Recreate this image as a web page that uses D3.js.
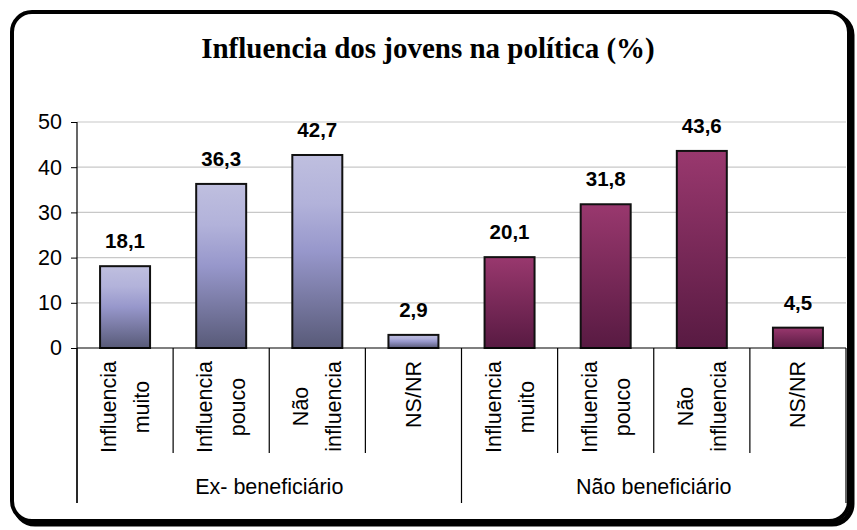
<!DOCTYPE html>
<html lang="pt">
<head>
    <meta charset="UTF-8">
    <title>Influencia dos jovens na política</title>
    <script src="https://d3js.org/d3.v7.min.js"></script>
    <style>
        body { margin: 0; background: #fff; }
        text { font-family: "Liberation Sans", Arial, sans-serif; }
    </style>
</head>
<body>
<script>
    // dados do gráfico
    var title = 'Influencia dos jovens na política (%)';
    var groups = ['Ex- beneficiário', 'Não beneficiário'];
    var categories = [['Influencia', 'muito'], ['Influencia', 'pouco'], ['Não', 'influencia'], ['NS/NR']];
    var exValues = [18.1, 36.3, 42.7, 2.9];
    var naoValues = [20.1, 31.8, 43.6, 4.5];
    var yTicks = [0, 10, 20, 30, 40, 50];

    var width = 857, height = 530;
    var svg = d3.select('body').append('svg').attr('width', width).attr('height', height);

    // gradientes (um por grupo, aplicado a cada barra)
    var defs = svg.append('defs');
    var g1 = defs.append('linearGradient').attr('id', 'gEx').attr('x1', 0).attr('y1', 0).attr('x2', 0).attr('y2', 1);
    g1.append('stop').attr('offset', '0%').attr('stop-color', '#bfbfdf');
    g1.append('stop').attr('offset', '25%').attr('stop-color', '#b2b2da');
    g1.append('stop').attr('offset', '50%').attr('stop-color', '#9797cb');
    g1.append('stop').attr('offset', '100%').attr('stop-color', '#585a78');
    var g2 = defs.append('linearGradient').attr('id', 'gNao').attr('x1', 0).attr('y1', 0).attr('x2', 0).attr('y2', 1);
    g2.append('stop').attr('offset', '0%').attr('stop-color', '#99386e');
    g2.append('stop').attr('offset', '100%').attr('stop-color', '#581a42');

    // moldura arredondada com sombra
    svg.append('rect').attr('x', 15).attr('y', 15).attr('width', 837).attr('height', 509)
        .attr('rx', 20).attr('fill', 'none').attr('stroke', '#000').attr('stroke-width', 5);
    svg.append('rect').attr('x', 12).attr('y', 12).attr('width', 837).attr('height', 509)
        .attr('rx', 20).attr('fill', '#fff').attr('stroke', '#000').attr('stroke-width', 4);

    // titulo
    svg.append('text')
        .attr('x', 428).attr('y', 58)
        .attr('text-anchor', 'middle')
        .style('font-family', '"Liberation Serif", "Times New Roman", serif')
        .style('font-weight', 'bold')
        .style('font-size', '29px')
        .text(title);

    // dados achatados
    var data = [];
    groups.forEach(function (g, gi) {
        var vals = gi === 0 ? exValues : naoValues;
        categories.forEach(function (c, ci) {
            data.push({key: gi + '-' + ci, group: gi, cat: c, value: vals[ci]});
        });
    });

    var x = d3.scaleBand().domain(data.map(d => d.key)).range([77, 846]).padding(0);
    var y = d3.scaleLinear().domain([0, 50]).range([348, 122]);
    var barW = x.bandwidth() * 0.52;

    // linhas de grade
    svg.append('g').selectAll('line').data(yTicks.slice(1)).enter().append('line')
        .attr('x1', 77).attr('x2', 846)
        .attr('y1', d => y(d)).attr('y2', d => y(d))
        .attr('stroke', '#c8c8c8').attr('stroke-width', 1.2);

    // eixo y
    var yAxis = svg.append('g').attr('transform', 'translate(77,0)')
        .call(d3.axisLeft(y).tickValues(yTicks).tickSize(6).tickPadding(9).tickFormat(d3.format('d')));
    yAxis.select('.domain').remove();
    yAxis.selectAll('line').attr('stroke', '#000');
    yAxis.selectAll('text').style('font-size', '21.5px').attr('fill', '#000')
        .style('font-family', '"Liberation Sans", Arial, sans-serif');
    svg.append('line').attr('x1', 77).attr('x2', 77).attr('y1', y(50)).attr('y2', 503)
        .attr('stroke', '#000').attr('stroke-width', 1.2);

    // barras
    svg.append('g').selectAll('rect').data(data).enter().append('rect')
        .attr('x', d => x(d.key) + (x.bandwidth() - barW) / 2)
        .attr('y', d => y(d.value))
        .attr('width', barW)
        .attr('height', d => y(0) - y(d.value))
        .attr('fill', d => d.group === 0 ? 'url(#gEx)' : 'url(#gNao)')
        .attr('stroke', '#111').attr('stroke-width', 2);

    // eixo x (linha zero)
    svg.append('line').attr('x1', 77).attr('x2', 846).attr('y1', y(0)).attr('y2', y(0))
        .attr('stroke', '#000').attr('stroke-width', 1.2);

    // rotulos de valores
    svg.append('g').selectAll('text').data(data).enter().append('text')
        .attr('x', d => x(d.key) + x.bandwidth() / 2)
        .attr('y', d => y(d.value) - 18)
        .attr('text-anchor', 'middle')
        .style('font-size', '20.5px').style('font-weight', 'bold')
        .text(d => d.value.toFixed(1).replace('.', ','));

    // separadores de categoria e grupo
    var seps = d3.range(data.length + 1);
    svg.append('g').selectAll('line').data(seps).enter().append('line')
        .attr('x1', i => 77 + i * x.bandwidth()).attr('x2', i => 77 + i * x.bandwidth())
        .attr('y1', y(0))
        .attr('y2', i => i % categories.length === 0 ? 503 : 453)
        .attr('stroke', '#000').attr('stroke-width', 1.2);

    // rotulos de categoria (rotacionados)
    var lineGap = 33;
    var catG = svg.append('g').selectAll('g').data(data).enter().append('g');
    catG.each(function (d) {
        var g = d3.select(this);
        var cx = x(d.key) + x.bandwidth() / 2;
        var n = d.cat.length;
        var texts = g.selectAll('text').data(d.cat).enter().append('text')
            .style('font-size', '21.5px')
            .attr('text-anchor', 'middle')
            .text(t => t);
        var maxLen = 0;
        texts.each(function () { maxLen = Math.max(maxLen, this.getComputedTextLength()); });
        var cy = 361 + maxLen / 2;
        texts.attr('transform', (t, i) => 'translate(' + (cx + (i - (n - 1) / 2) * lineGap + 7.5) + ',' + cy + ') rotate(-90)');
    });

    // rotulos de grupo
    svg.append('g').selectAll('text').data(groups).enter().append('text')
        .attr('x', (g, i) => 77 + (i + 0.5) * categories.length * x.bandwidth())
        .attr('y', 494)
        .attr('text-anchor', 'middle')
        .style('font-size', '21.5px')
        .text(g => g);
</script>
</body>
</html>
